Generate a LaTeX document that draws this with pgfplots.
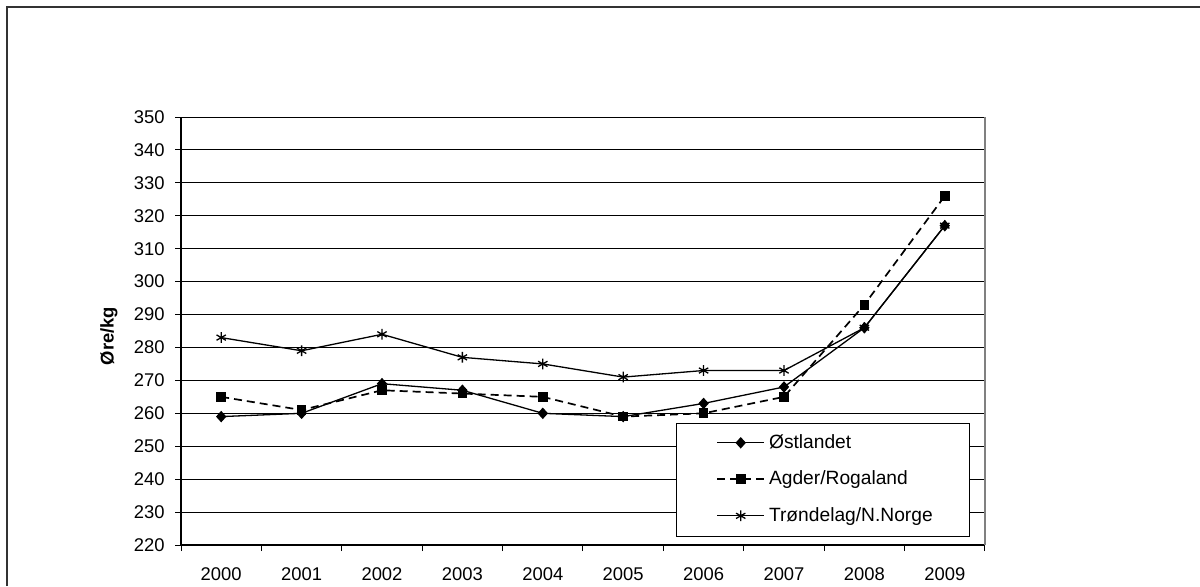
\documentclass[border=0pt]{standalone}
\usepackage{pgfplots}
\pgfplotsset{compat=1.18}
\usepackage{fontspec}
\setmainfont{Liberation Sans}
\begin{document}
\begin{tikzpicture}
\useasboundingbox (0pt,0pt) rectangle (600pt,293pt);
\fill[white] (0pt,0pt) rectangle (600pt,293pt);
\draw[black!80, line width=1.1pt] (3.5pt,0pt) -- (3.5pt,289.5pt) -- (600pt,289.5pt);
\begin{axis}[
  at={(90.5pt,20.5pt)}, anchor=south west,
  scale only axis, width=402pt, height=214pt,
  xmin=-0.5, xmax=9.5, ymin=220, ymax=350,
  ytick={220,230,...,350},
  xtick={-0.5,0.5,1.5,2.5,3.5,4.5,5.5,6.5,7.5,8.5,9.5},
  x tick label as interval,
  xticklabels={2000,2001,2002,2003,2004,2005,2006,2007,2008,2009},
  axis x line*=bottom, axis y line*=left,
  tick align=outside, major tick length=3pt,
  tick style={black, line width=0.5pt},
  x axis line style={black, line width=0.6pt},
  y axis line style={black, line width=1pt},
  ymajorgrids, grid style={black, line width=0.5pt},
  /pgf/number format/assume math mode=true,
  tick label style={font=\fontsize{9.2}{11}\selectfont},
  yticklabel style={anchor=east, inner sep=0pt, xshift=-5pt},
  xticklabel style={anchor=north, inner sep=0pt, yshift=-8pt},
  clip=false,
  legend cell align=left,
  legend style={at={(rel axis cs:0.6654,0.1535)}, anchor=west,
    draw=none, fill=none, inner sep=0pt,
    row sep=5.8pt, font=\fontsize{9.6}{12}\selectfont,
    /tikz/every even column/.append style={column sep=4pt}},
  legend image code/.code={\draw[mark repeat=2, mark phase=2, #1] plot coordinates {(0pt,0pt) (11.75pt,0pt) (23.5pt,0pt)};},
]
\draw[gray, line width=0.6pt] (rel axis cs:1,0) -- (rel axis cs:1,1);
\addplot[black, line width=0.65pt, mark=diamond*, mark size=2.4pt, mark options={solid, xscale=1.2}]
  coordinates {(0,259) (1,260) (2,269) (3,267) (4,260) (5,259) (6,263) (7,268) (8,286) (9,317)};
\addlegendentry{Østlandet}
\addplot[black, line width=0.85pt, dash pattern=on 4pt off 2.5pt, mark=square*, mark size=2pt, mark options={solid}]
  coordinates {(0,265) (1,261) (2,267) (3,266) (4,265) (5,259) (6,260) (7,265) (8,293) (9,326)};
\addlegendentry{Agder/Rogaland}
\addplot[black, line width=0.65pt, mark=asterisk, mark size=2.7pt, mark options={solid}]
  coordinates {(0,283) (1,279) (2,284) (3,277) (4,275) (5,271) (6,273) (7,273) (8,286) (9,317)};
\addlegendentry{Trøndelag/N.Norge}
\draw[black, line width=0.5pt, fill=white] (rel axis cs:0.6157,0.0194) rectangle (rel axis cs:0.9813,0.285);
\node[rotate=90, font=\bfseries\fontsize{9.2}{11}\selectfont] at ([xshift=-36pt]rel axis cs:0,0.488) {Øre/kg};
\end{axis}
\end{tikzpicture}
\end{document}
